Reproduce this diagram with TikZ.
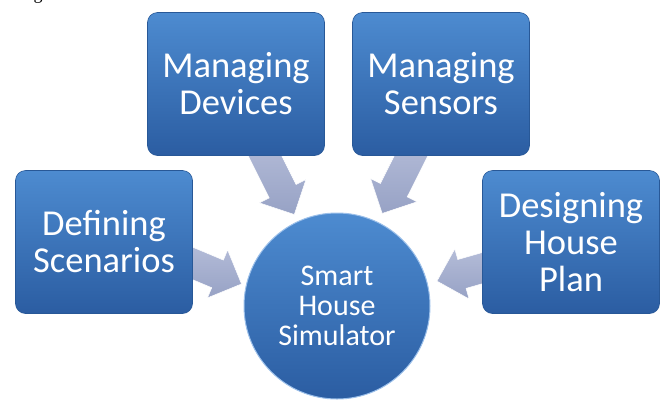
\documentclass[tikz,border=0pt]{standalone}
\usepackage{fontspec}
\setmainfont{Carlito}
\newfontfamily\fragfont{Liberation Serif}
\usetikzlibrary{calc,backgrounds}
\definecolor{boxtop}{HTML}{4D8BD0}
\definecolor{boxbot}{HTML}{2B5DA2}
\definecolor{boxedge}{HTML}{285897}
\definecolor{arrA}{HTML}{B4BCD8}
\definecolor{arrB}{HTML}{97A2C5}
\definecolor{rim}{HTML}{9CC0EA}
\tikzset{
  taskbox/.style={rectangle, rounded corners=10pt, minimum width=177pt, minimum height=143pt,
    top color=boxtop, bottom color=boxbot, draw=boxedge, line width=0.6pt,
    text=white, align=center, font=\fontsize{36.5}{37}\selectfont, inner sep=0pt},
  hub/.style={circle, minimum size=186pt, top color=boxtop, bottom color=boxbot,
    draw=rim, line width=1pt, text=white, align=center,
    font=\fontsize{30}{30}\selectfont, inner sep=0pt},
  blockarrow/.style={top color=arrA, bottom color=arrB, draw=white, line width=0.5pt}
}
\newcommand\blkarrow[2]{%
  \coordinate (#1h) at ($(#2)!26pt!(#1)$);
  \path[blockarrow] ($(#1)!15pt!90:(#2)$) -- ($(#1h)!15pt!-90:(#1)$) -- ($(#1h)!26pt!-90:(#1)$)
    -- (#2) -- ($(#1h)!26pt!90:(#1)$) -- ($(#1h)!15pt!90:(#1)$) -- ($(#1)!15pt!-90:(#2)$) -- cycle;
}
\begin{document}
\begin{tikzpicture}[x=1pt, y=-1pt]
  \useasboundingbox (0,0) rectangle (667,400);
  \node[anchor=base, font=\fragfont\fontsize{18}{18}\selectfont, text=black] (frag) at (38,-1) {g};
  \node[taskbox] (dev) at (236,84) {Managing\\Devices};
  \node[taskbox] (sen) at (441,84) {Managing\\Sensors};
  \node[taskbox] (scen) at (104,242) {Defining\\Scenarios};
  \node[taskbox] (plan) at (571,242) {Designing\\House\\Plan};
  \node[hub] (sim) at (337,306) {Smart\\House\\Simulator};
  \coordinate (a1s) at ($(dev.south)+(24,-10)$);
  \coordinate (a1t) at ($(sim.center)+(115:101pt)$);
  \coordinate (a2s) at ($(sen.south)+(-25,-10)$);
  \coordinate (a2t) at ($(sim.center)+(64:103pt)$);
  \coordinate (a3s) at ($(scen.east)+(-13,16)$);
  \coordinate (a3t) at ($(sim.center)+(167:98pt)$);
  \coordinate (a4s) at ($(plan.west)+(18,21)$);
  \coordinate (a4t) at ($(sim.center)+(14:103pt)$);
  \begin{scope}[on background layer]
    \blkarrow{a1s}{a1t}
    \blkarrow{a2s}{a2t}
    \blkarrow{a3s}{a3t}
    \blkarrow{a4s}{a4t}
  \end{scope}
\end{tikzpicture}
\end{document}
